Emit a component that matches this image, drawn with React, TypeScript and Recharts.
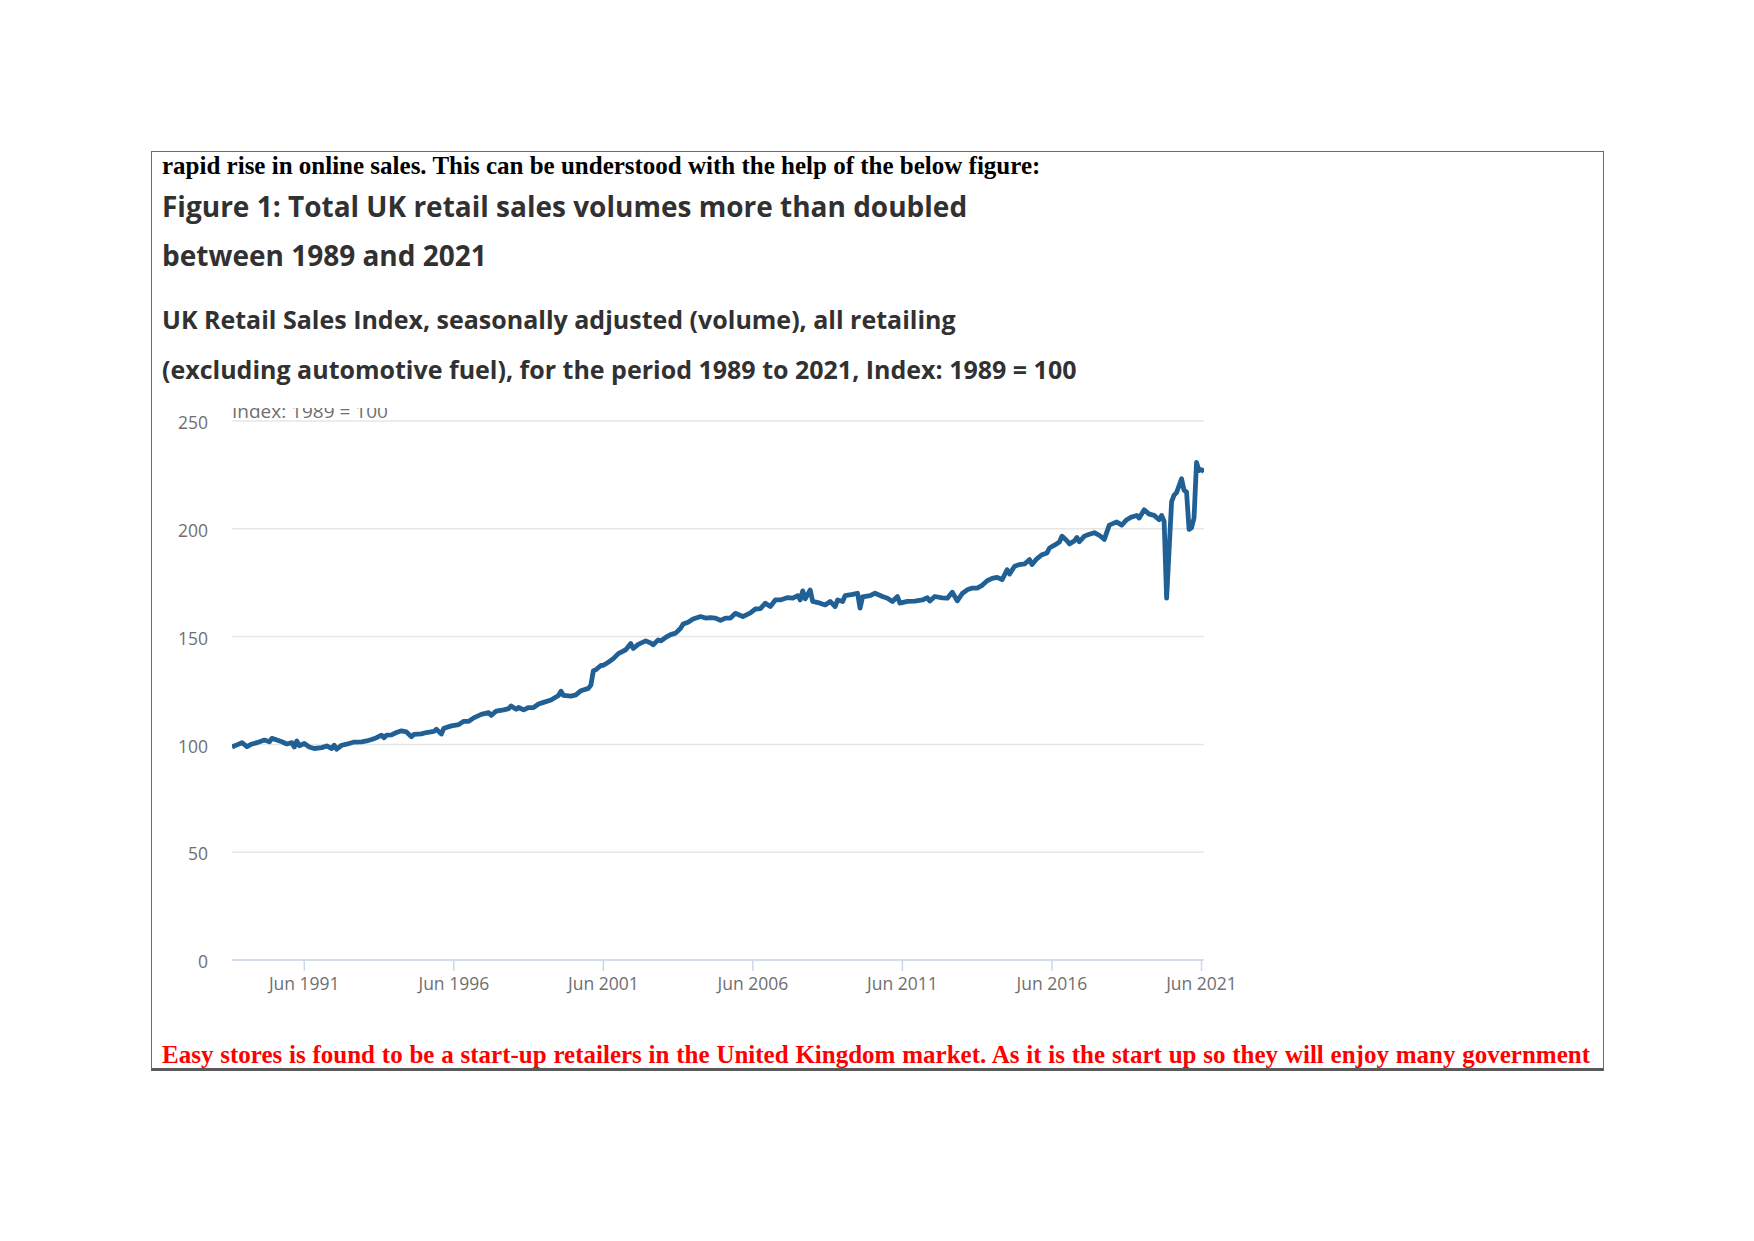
import { LineChart, Line, XAxis, YAxis, CartesianGrid } from "recharts";

// UK Retail Sales Index (volume, SA)
const months = [
  "1989-01", "1989-03", "1989-05", "1989-07", "1989-09", "1989-11",
  "1990-02", "1990-04", "1990-05", "1990-07", "1990-09", "1990-11",
  "1991-01", "1991-02", "1991-03", "1991-04", "1991-06", "1991-08", "1991-10",
  "1992-01", "1992-03", "1992-05", "1992-06", "1992-07", "1992-09", "1992-11",
  "1993-02", "1993-05", "1993-07", "1993-09", "1993-11",
  "1994-01", "1994-02", "1994-03", "1994-05", "1994-07", "1994-09", "1994-11",
  "1995-01", "1995-02", "1995-05", "1995-07", "1995-10", "1995-11",
  "1996-01", "1996-02", "1996-05", "1996-08", "1996-10", "1996-12",
  "1997-02", "1997-05", "1997-08", "1997-09", "1997-11",
  "1998-02", "1998-04", "1998-05", "1998-07", "1998-08", "1998-10", "1998-12",
  "1999-02", "1999-04", "1999-06", "1999-09", "1999-12",
  "2000-01", "2000-02", "2000-05", "2000-07", "2000-09", "2000-12",
  "2001-01", "2001-02", "2001-03", "2001-05", "2001-06", "2001-08", "2001-10", "2001-12",
  "2002-03", "2002-05", "2002-06", "2002-08", "2002-11",
  "2003-01", "2003-02", "2003-04", "2003-05", "2003-07", "2003-09", "2003-11",
  "2004-01", "2004-02", "2004-04", "2004-06", "2004-09", "2004-11",
  "2005-01", "2005-03", "2005-05", "2005-07", "2005-09", "2005-11",
  "2006-01", "2006-02", "2006-05", "2006-07", "2006-09", "2006-11",
  "2007-01", "2007-03", "2007-05", "2007-08", "2007-10", "2007-12",
  "2008-01", "2008-02", "2008-03", "2008-05", "2008-06", "2008-09", "2008-11",
  "2009-01", "2009-03", "2009-04", "2009-06", "2009-07", "2009-10", "2009-12",
  "2010-01", "2010-02", "2010-05", "2010-07", "2010-10", "2010-12",
  "2011-02", "2011-04", "2011-05", "2011-08", "2011-11",
  "2012-02", "2012-04", "2012-05", "2012-07", "2012-10", "2012-12",
  "2013-02", "2013-04", "2013-06", "2013-08", "2013-10", "2013-12",
  "2014-02", "2014-04", "2014-06", "2014-08", "2014-10", "2014-12",
  "2015-01", "2015-03", "2015-05", "2015-07", "2015-09", "2015-10", "2015-12",
  "2016-02", "2016-04", "2016-05", "2016-07", "2016-09", "2016-10", "2016-12",
  "2017-01", "2017-03", "2017-04", "2017-05", "2017-07", "2017-09", "2017-11",
  "2018-01", "2018-03", "2018-05", "2018-08", "2018-10", "2018-12",
  "2019-02", "2019-04", "2019-05", "2019-07", "2019-09", "2019-11",
  "2020-01", "2020-02", "2020-03", "2020-04", "2020-06", "2020-07", "2020-08",
  "2020-10", "2020-11", "2020-12",
  "2021-01", "2021-02", "2021-03", "2021-04", "2021-05", "2021-06", "2021-07",
];

const salesIndex = [
  98.8, 99.8, 100.8, 99.0, 100.2, 100.8,
  102.0, 101.2, 102.8, 102.0, 101.2, 100.2,
  100.8, 98.8, 101.6, 99.4, 100.4, 98.8, 98.1,
  98.5, 99.3, 98.1, 99.6, 97.8, 99.6, 100.1,
  101.1, 101.2, 101.6, 102.3, 103.1,
  104.3, 103.1, 104.3, 104.4, 105.5, 106.3, 105.8,
  103.6, 104.6, 104.9, 105.5, 106.0, 107.0,
  104.8, 107.5, 108.6, 109.2, 110.7, 110.7,
  112.3, 113.9, 114.7, 113.5, 115.4,
  116.0, 116.6, 117.8, 116.3, 117.1, 116.0, 117.1,
  117.1, 118.7, 119.5, 120.6, 122.7,
  124.7, 122.7, 122.4, 123.0, 124.9, 126.0,
  127.5, 134.2, 134.6, 136.6, 136.7, 138.1, 139.8, 142.1,
  143.9, 146.8, 144.5, 146.4, 148.0,
  147.0, 146.2, 148.5, 148.0, 149.6, 150.9, 151.6,
  153.9, 155.8, 156.7, 158.2, 159.3, 158.6,
  158.8, 158.6, 157.5, 158.6, 158.6, 160.8,
  159.8, 159.3, 161.0, 162.8, 163.0, 165.5,
  164.0, 167.0, 167.0, 168.1, 167.8, 169.0,
  167.0, 171.2, 167.5, 171.6, 166.3, 165.5, 164.7,
  166.3, 163.9, 167.0, 166.3, 169.0, 169.6, 170.1,
  163.2, 168.4, 169.0, 170.1, 168.6, 167.8,
  166.3, 168.6, 165.5, 166.3, 166.5,
  167.0, 168.0, 166.5, 168.6, 168.0, 167.8,
  170.6, 166.6, 170.0, 171.7, 172.5, 172.5,
  173.8, 175.9, 177.0, 177.5, 176.4, 181.0,
  179.0, 182.6, 183.4, 183.7, 185.7, 183.4, 186.2,
  188.0, 188.8, 191.1, 192.4, 193.9, 196.6, 194.5,
  193.0, 194.4, 196.0, 194.0, 196.6, 197.5, 198.2,
  197.0, 195.1, 201.7, 203.2, 201.7, 204.2,
  205.5, 206.2, 205.0, 208.8, 206.8, 206.2,
  204.2, 206.2, 203.5, 167.8, 212.6, 215.6, 216.8,
  223.2, 217.9, 217.1,
  199.7, 200.5, 205.0, 230.8, 227.0, 227.4, 226.5,
];

const yTicks = [0, 50, 100, 150, 200, 250];
const xTickLabels = ["Jun 1991", "Jun 1996", "Jun 2001", "Jun 2006", "Jun 2011", "Jun 2016", "Jun 2021"];

const MONTH_NAMES = ["Jan", "Feb", "Mar", "Apr", "May", "Jun", "Jul", "Aug", "Sep", "Oct", "Nov", "Dec"];

function monthToYear(m: string) {
  const [y, mo] = m.split("-").map(Number);
  return y + (mo - 1) / 12;
}

function labelToYear(label: string) {
  const [mn, y] = label.split(" ");
  return Number(y) + MONTH_NAMES.indexOf(mn) / 12;
}

const xTicks = xTickLabels.map(labelToYear);

function fmtTick(v: number) {
  const i = xTicks.findIndex((t) => Math.abs(t - v) < 0.01);
  return i >= 0 ? xTickLabels[i] : "";
}

const data = months.map((m, i) => ({ t: monthToYear(m), v: salesIndex[i] }));

const SANS = "'Open Sans', 'Noto Sans', sans-serif";
const SERIF = "'Liberation Serif', 'Times New Roman', serif";
const DARK = "#323132";
const GREY = "#6f6f6f";

export default function App() {
  return (
    <div
      style={{
        position: "absolute",
        left: 0,
        top: 0,
        width: 1754,
        height: 1241,
        background: "#ffffff",
        overflow: "hidden",
      }}
    >
      {/* page box */}
      <div
        style={{
          position: "absolute",
          left: 151,
          top: 151,
          width: 1451,
          height: 916,
          borderLeft: "1px solid #6b6b6b",
          borderTop: "1px solid #6b6b6b",
          borderRight: "1px solid #6b6b6b",
          borderBottom: "3px solid #5a5a5a",
        }}
      />

      <div
        style={{
          position: "absolute",
          left: 162,
          top: 152,
          fontFamily: SERIF,
          fontWeight: 700,
          fontSize: 25,
          lineHeight: "28px",
          color: "#000",
          whiteSpace: "nowrap",
        }}
      >
        rapid rise in online sales. This can be understood with the help of the below figure:
      </div>

      <div
        style={{
          position: "absolute",
          left: 162,
          top: 182,
          fontFamily: SANS,
          fontWeight: 700,
          fontSize: 28,
          lineHeight: "49px",
          color: DARK,
          whiteSpace: "nowrap",
        }}
      >
        Figure 1: Total UK retail sales volumes more than doubled
        <br />
        between 1989 and 2021
      </div>

      <div
        style={{
          position: "absolute",
          left: 162,
          top: 294,
          fontFamily: SANS,
          fontWeight: 700,
          fontSize: 25,
          lineHeight: "50px",
          color: DARK,
          whiteSpace: "nowrap",
        }}
      >
        UK Retail Sales Index, seasonally adjusted (volume), all retailing
        <br />
        (excluding automotive fuel), for the period 1989 to 2021, Index: 1989 = 100
      </div>

      {/* unit label, clipped at the top like the source screenshot */}
      <div
        style={{
          position: "absolute",
          left: 232,
          top: 408,
          height: 15,
          width: 200,
          overflow: "hidden",
        }}
      >
        <div
          style={{
            position: "absolute",
            left: 0,
            top: -10,
            fontFamily: SANS,
            fontSize: 19,
            lineHeight: "26px",
            color: GREY,
            whiteSpace: "nowrap",
          }}
        >
          Index: 1989 = 100
        </div>
      </div>

      <div style={{ position: "absolute", left: 140, top: 395 }}>
        <LineChart
          width={1100}
          height={620}
          data={data}
          margin={{ top: 26, right: 36, left: 0, bottom: 15 }}
        >
          <CartesianGrid vertical={false} stroke="#e6e6e6" strokeWidth={1.5} />
          <XAxis
            type="number"
            dataKey="t"
            domain={[1989, 2021.5]}
            ticks={xTicks}
            tickFormatter={fmtTick}
            interval={0}
            allowDataOverflow
            height={40}
            axisLine={{ stroke: "#ccd6eb", strokeWidth: 1.5 }}
            tickLine={{ stroke: "#ccd6eb", strokeWidth: 1.5 }}
            tickSize={11}
            tickMargin={7}
            tick={{ fill: GREY, fontSize: 17.5, fontFamily: SANS }}
          />
          <YAxis
            domain={[0, 250]}
            ticks={yTicks}
            interval={0}
            width={92}
            axisLine={false}
            tickLine={false}
            tickSize={0}
            tickMargin={24}
            tick={{ fill: GREY, fontSize: 17.5, fontFamily: SANS, dy: 2 }}
          />
          <Line
            type="linear"
            dataKey="v"
            stroke="#206095"
            strokeWidth={4.8}
            strokeLinejoin="round"
            dot={false}
            activeDot={false}
            isAnimationActive={false}
          />
        </LineChart>
      </div>

      <div
        style={{
          position: "absolute",
          left: 162,
          top: 1041,
          width: 1428,
          fontFamily: SERIF,
          fontWeight: 700,
          fontSize: 25,
          lineHeight: "28px",
          color: "#ff0000",
          whiteSpace: "nowrap",
          textAlign: "justify",
          textAlignLast: "justify",
        }}
      >
        Easy stores is found to be a start-up retailers in the United Kingdom market. As it is the start up so they will enjoy many government
      </div>
    </div>
  );
}
